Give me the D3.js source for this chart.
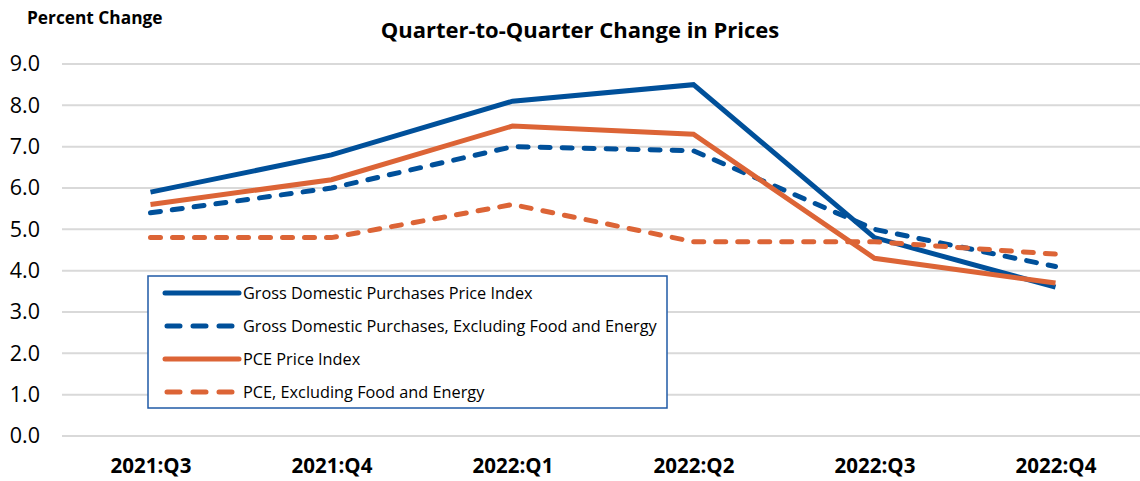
<!DOCTYPE html>
<html>
<head>
<meta charset="utf-8">
<script src="https://cdn.jsdelivr.net/npm/d3@7"></script>
<style>
  body { margin: 0; background: #fff; }
  text { font-family: "Open Sans", sans-serif; fill: #000; }
</style>
</head>
<body>
<div class="canvas"></div>
<script>
const quarters = ['2021:Q3', '2021:Q4', '2022:Q1', '2022:Q2', '2022:Q3', '2022:Q4'];
const gdpPurchases = [5.9, 6.8, 8.1, 8.5, 4.8, 3.6];
const gdpPurchasesCore = [5.4, 6.0, 7.0, 6.9, 5.0, 4.1];
const pce = [5.6, 6.2, 7.5, 7.3, 4.3, 3.7];
const pceCore = [4.8, 4.8, 5.6, 4.7, 4.7, 4.4];
const yTicks = [0, 1, 2, 3, 4, 5, 6, 7, 8, 9];

const blue = '#00509a';
const orange = '#dc6436';

const series = [
  { name: 'Gross Domestic Purchases Price Index', values: gdpPurchases, colour: blue, dash: null },
  { name: 'Gross Domestic Purchases, Excluding Food and Energy', values: gdpPurchasesCore, colour: blue, dash: '10,12' },
  { name: 'PCE Price Index', values: pce, colour: orange, dash: null },
  { name: 'PCE, Excluding Food and Energy', values: pceCore, colour: orange, dash: '10,12' }
];

const dims = { width: 1140, height: 481 };
const plot = { left: 60, right: 1146, top: 64, bottom: 436 };

const svg = d3.select('.canvas')
  .append('svg')
  .attr('width', dims.width)
  .attr('height', dims.height);

const x = d3.scalePoint()
  .domain(quarters)
  .range([plot.left, plot.right])
  .padding(0.5);

const y = d3.scaleLinear()
  .domain([0, 9])
  .range([plot.bottom, plot.top]);

// gridlines
svg.append('g')
  .selectAll('line')
  .data(yTicks)
  .enter()
  .append('line')
    .attr('x1', 62)
    .attr('x2', 1140)
    .attr('y1', d => y(d))
    .attr('y2', d => y(d))
    .attr('stroke', '#d9d9d9')
    .attr('stroke-width', 2);

// y axis labels
const yAxis = svg.append('g')
  .attr('transform', `translate(40, 0)`)
  .call(d3.axisLeft(y).tickValues(yTicks).tickFormat(d3.format('.1f')).tickSize(0));
yAxis.select('.domain').remove();
yAxis.selectAll('text')
  .attr('x', 0)
  .style('font-size', '21.5px')
  .style('font-family', '"Open Sans", sans-serif');

// x axis labels
const xAxis = svg.append('g')
  .attr('transform', `translate(0, 473)`)
  .call(d3.axisBottom(x).tickSize(0));
xAxis.select('.domain').remove();
xAxis.selectAll('text')
  .attr('y', 0)
  .attr('dy', 0)
  .style('font-size', '20.5px')
  .style('font-weight', 'bold')
  .style('font-family', '"Open Sans", sans-serif');

// lines
const line = d3.line()
  .x((d, i) => x(quarters[i]))
  .y(d => y(d));

svg.append('g')
  .selectAll('path')
  .data(series)
  .enter()
  .append('path')
    .attr('d', d => line(d.values))
    .attr('fill', 'none')
    .attr('stroke', d => d.colour)
    .attr('stroke-width', 5)
    .attr('stroke-linejoin', 'miter')
    .attr('stroke-linecap', d => d.dash ? 'round' : 'butt')
    .attr('stroke-dasharray', d => d.dash);

// titles
svg.append('text')
  .attr('x', 580)
  .attr('y', 38)
  .attr('text-anchor', 'middle')
  .style('font-size', '22px')
  .style('font-weight', 'bold')
  .text('Quarter-to-Quarter Change in Prices');

svg.append('text')
  .attr('x', 27)
  .attr('y', 24)
  .style('font-size', '17.3px')
  .style('font-weight', 'bold')
  .text('Percent Change');

// legend
const legendBox = { x: 148, y: 276, width: 519, height: 132 };
svg.append('rect')
  .attr('x', legendBox.x)
  .attr('y', legendBox.y)
  .attr('width', legendBox.width)
  .attr('height', legendBox.height)
  .attr('fill', '#fff')
  .attr('stroke', '#1f5aa6')
  .attr('stroke-width', 1.5);

const legend = svg.selectAll('.legend')
  .data(series)
  .enter()
  .append('g')
  .attr('class', 'legend')
  .attr('transform', (d, i) => `translate(${legendBox.x}, ${legendBox.y + 17 + i * 33})`);

legend.append('line')
  .attr('x1', d => d.dash ? 19 : 17)
  .attr('x2', d => d.dash ? 89 : 91)
  .attr('stroke', d => d.colour)
  .attr('stroke-width', 5)
  .attr('stroke-linecap', 'round')
  .attr('stroke-dasharray', d => d.dash ? '13,13' : null);

legend.append('text')
  .attr('x', 95)
  .attr('dy', '0.35em')
  .style('font-size', '16.3px')
  .text(d => d.name);
</script>
</body>
</html>
